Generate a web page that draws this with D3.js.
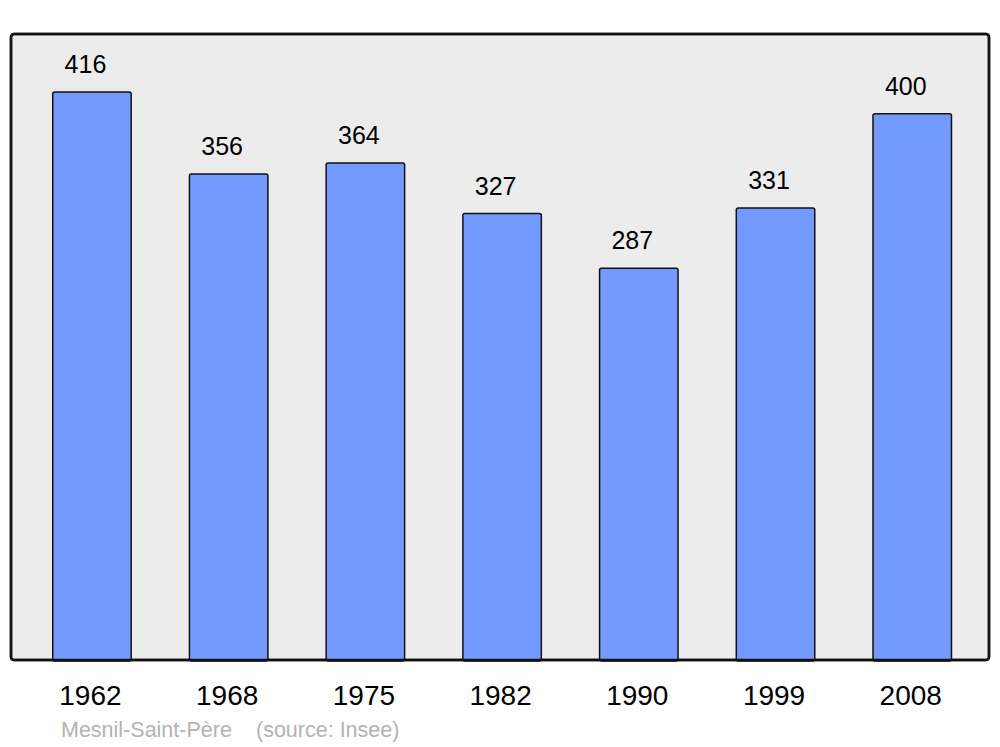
<!DOCTYPE html>
<html><head><meta charset="utf-8">
<script src="https://cdn.jsdelivr.net/npm/d3@7/dist/d3.min.js"></script>
<style>body{margin:0;background:#fff}svg{display:block}text{font-family:"Liberation Sans",Arial,sans-serif}</style>
</head><body>
<svg id="c" width="1000" height="747"></svg>
<script>
const years = ["1962","1968","1975","1982","1990","1999","2008"];
const population = [416,356,364,327,287,331,400];
const placeName = "Mesnil-Saint-Père";
const sourceLabel = "(source: Insee)";

const svg = d3.select("#c");
const panel = {x0:11, x1:989, y0:34, y1:660};

svg.append("rect").attr("x",panel.x0).attr("y",panel.y0)
  .attr("width",panel.x1-panel.x0).attr("height",panel.y1-panel.y0)
  .attr("rx",3).attr("fill","#ececec").attr("stroke","#111").attr("stroke-width",2.5);

const x = d3.scaleBand().domain(years).range([23.6,980.6]).paddingInner(0.426).paddingOuter(0.213);
const y = d3.scaleLinear().domain([0,458.5]).range([panel.y1,panel.y0]);

svg.append("g").selectAll("rect").data(years).join("rect")
  .attr("x",d=>x(d)).attr("width",x.bandwidth())
  .attr("y",(d,i)=>y(population[i])).attr("height",(d,i)=>panel.y1-y(population[i])+1)
  .attr("rx",2).attr("fill","#7499ff").attr("stroke","#111").attr("stroke-width",1.5);

svg.append("g").selectAll("text").data(years).join("text")
  .attr("x",d=>x(d)+x.bandwidth()/2-6.5).attr("y",(d,i)=>y(population[i])-19)
  .attr("text-anchor","middle").attr("font-size",25).attr("fill","#000")
  .text((d,i)=>population[i]);

svg.append("rect").attr("x",panel.x0).attr("y",panel.y0)
  .attr("width",panel.x1-panel.x0).attr("height",panel.y1-panel.y0)
  .attr("rx",3).attr("fill","none").attr("stroke","#111").attr("stroke-width",2.5);

svg.append("g").selectAll("text").data(years).join("text")
  .attr("x",d=>x(d)+x.bandwidth()/2-1.5).attr("y",705)
  .attr("text-anchor","middle").attr("font-size",28).attr("fill","#000")
  .text(d=>d);

svg.append("text").attr("x",61).attr("y",737).attr("font-size",21.5).attr("fill","#b3b3b3").text(placeName);
svg.append("text").attr("x",256).attr("y",737).attr("font-size",21.5).attr("fill","#b3b3b3").text(sourceLabel);
</script>
</body></html>
